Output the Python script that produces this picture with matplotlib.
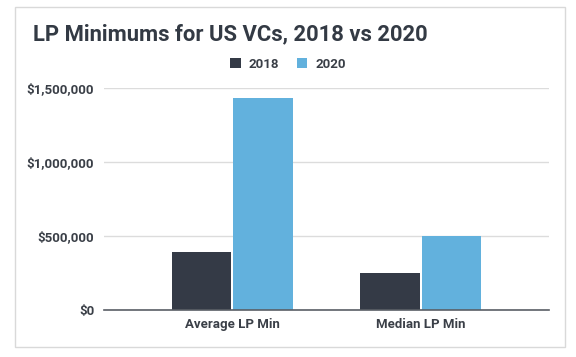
import matplotlib
import matplotlib.pyplot as plt
import numpy as np
from matplotlib.patches import Rectangle
from matplotlib.ticker import FuncFormatter

matplotlib.use("Agg")

categories = ["Average LP Min", "Median LP Min"]
series_names = ["2018", "2020"]
values_2018 = [395000, 250000]
values_2020 = [1430000, 500000]
y_ticks = [0, 500000, 1000000, 1500000]

_COLORS = {"2018": "#343a46", "2020": "#62b1dd"}
_TEXT = "#3a3f47"

plt.rcParams["font.family"] = ["Roboto", "DejaVu Sans"]

fig = plt.figure(figsize=(5.76, 3.57), dpi=100)
ax = fig.add_axes([104 / 576, 47 / 357, 445 / 576, 222 / 357])

x = np.arange(len(categories))
w = 0.316
off = 0.163
ax.bar(x - off, values_2018, w, color=_COLORS["2018"], label=series_names[0], zorder=3)
ax.bar(x + off, values_2020, w, color=_COLORS["2020"], label=series_names[1], zorder=3)

ax.set_xlim(-0.682, 1.682)
ax.set_ylim(0, 1500000)
ax.set_yticks(y_ticks)
ax.yaxis.set_major_formatter(FuncFormatter(lambda v, _: f"${v:,.0f}"))
ax.set_xticks(x)
ax.set_xticklabels(categories)
ax.tick_params(axis="both", length=0, labelsize=9.5, colors=_TEXT)
ax.tick_params(axis="y", pad=7)
ax.tick_params(axis="x", pad=6)
for lbl in ax.get_xticklabels() + ax.get_yticklabels():
    lbl.set_fontweight("bold")

ax.grid(axis="y", color="#dcdcdc", lw=1, zorder=0)
for s in ("top", "right", "left"):
    ax.spines[s].set_visible(False)
ax.spines["bottom"].set_color("#5a5f66")
ax.spines["bottom"].set_linewidth(1.2)
ax.spines["bottom"].set_zorder(4)

fig.text(33 / 576, 1 - 34 / 357, "LP Minimums for US VCs, 2018 vs 2020",
         fontsize=15.8, fontweight="bold", color="#333a44", va="center", ha="left")

fig.legend(loc="center", bbox_to_anchor=(0.5, 1 - 64.5 / 357), ncol=2, frameon=False,
           handlelength=0.8, handleheight=0.8, handletextpad=0.6,
           columnspacing=1.3, labelcolor=_TEXT, prop={"weight": "bold", "size": 9.5})

fig.patches.append(Rectangle((15 / 576, 10 / 357), 550 / 576, 340 / 357,
                             transform=fig.transFigure, fill=False,
                             edgecolor="#d9d9d9", lw=1))

fig.savefig("out.png", dpi=100)
